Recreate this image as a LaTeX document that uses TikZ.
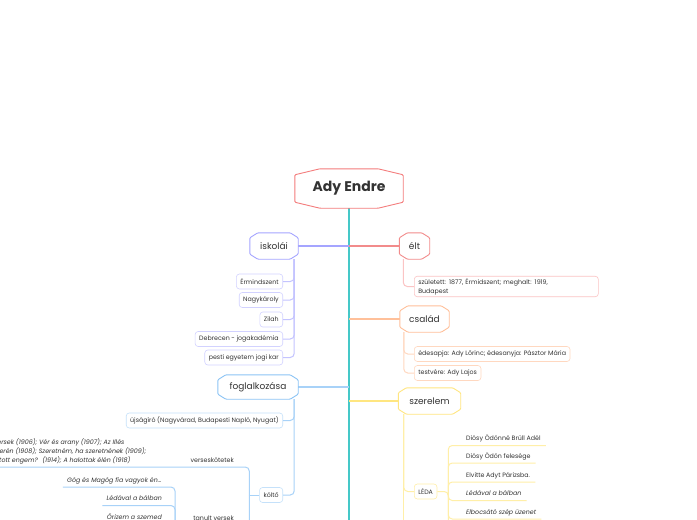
\documentclass[tikz,border=0pt]{standalone}
\usepackage{fontspec}
\setmainfont{Poppins}
\usetikzlibrary{calc}
\definecolor{txt}{HTML}{333333}
\definecolor{trunkc}{HTML}{45C8C8}
\definecolor{rootc}{HTML}{F47C7C}
\definecolor{eltc}{HTML}{F28B8B}
\definecolor{eltleaf}{HTML}{FBC4C4}
\definecolor{csc}{HTML}{FFC09A}
\definecolor{csleaf}{HTML}{FFD8C0}
\definecolor{szc}{HTML}{FFE680}
\definecolor{szline}{HTML}{FFEFA8}
\definecolor{iskc}{HTML}{A5A5FF}
\definecolor{iskline}{HTML}{C4C4FF}
\definecolor{iskleaf}{HTML}{D2D2FF}
\definecolor{fogc}{HTML}{8CC4F5}
\definecolor{fogline}{HTML}{A8D2F8}
\definecolor{fogleaf}{HTML}{C5E1FA}
\newcommand\chamfbox[4]{%
\draw[#2, line width=0.9pt, rounded corners=1pt]
 ($(#1.north west)+(#3,0pt)$) -- ($(#1.north east)+(-#3,0pt)$) -- ($(#1.north east)+(0pt,-#4)$) -- ($(#1.south east)+(0pt,#4)$) -- ($(#1.south east)+(-#3,0pt)$) -- ($(#1.south west)+(#3,0pt)$) -- ($(#1.south west)+(0pt,#4)$) -- ($(#1.north west)+(0pt,-#4)$) -- cycle;}
\begin{document}
\begin{tikzpicture}[x=1pt,y=-1pt,
  topic/.style={inner sep=0pt, minimum height=26pt, font=\fontsize{9}{11}\selectfont, text=txt},
  leaf/.style={draw, rounded corners=3pt, line width=0.6pt, inner xsep=4pt, inner ysep=0pt, minimum height=15pt, font=\fontsize{6.3}{9}\selectfont, text=txt},
  item/.style={inner xsep=0pt, inner ysep=3pt, text height=4.8pt, text depth=1.6pt, font=\fontsize{6.3}{9}\selectfont, text=txt},
  branch/.style={line width=1.4pt},
  sub/.style={line width=1pt, rounded corners=4pt}]
\useasboundingbox (0,0) rectangle (697,520);
\clip (0,0) rectangle (697,520);
\fill[white] (0,0) rectangle (697,520);

% main topics
\node[topic, minimum width=108pt, minimum height=39pt, font=\fontsize{14}{16}\selectfont\bfseries] (root) at (349,188.5) {Ady Endre};
\node[topic, minimum width=48pt] (isk) at (274,246) {iskolái};
\node[topic, minimum width=30pt] (elt) at (414.5,246) {élt};
\node[topic, minimum width=49pt] (csal) at (424.5,319) {család};
\node[topic, minimum width=62pt] (szer) at (429.5,401) {szerelem};
\node[topic, minimum width=80pt, minimum height=24pt] (fog) at (258,387) {foglalkozása};
\coordinate (trunkend) at (349,540);

% trunk and branches
\draw[trunkc, line width=2pt] (root.south) -- (trunkend);
\draw[iskc, branch] (isk.east) -- (isk.east -| root.south);
\draw[eltc, branch] (elt.west) -- (elt.west -| root.south);
\draw[csc, branch] (csal.west) -- (csal.west -| root.south);
\draw[szc, branch] (szer.west) -- (szer.west -| root.south);
\draw[fogline, branch] (fog.east) -- (fog.east -| root.south);

\chamfbox{root}{rootc}{25pt}{6pt}
\chamfbox{isk}{iskc}{8pt}{5pt}
\chamfbox{elt}{eltc}{8pt}{5pt}
\chamfbox{csal}{csc}{8pt}{5pt}
\chamfbox{szer}{szc}{8pt}{5pt}
\chamfbox{fog}{fogc}{8pt}{5pt}

% iskolai
\coordinate (iskv) at ($(isk.south east)+(-4pt,0pt)$);
\node[leaf, draw=iskleaf, anchor=east] (i1) at (283,281.5) {Érmindszent};
\node[leaf, draw=iskleaf, anchor=east] (i2) at (283,300) {Nagykároly};
\node[leaf, draw=iskleaf, anchor=east] (i3) at (283,319.5) {Zilah};
\node[leaf, draw=iskleaf, anchor=east] (i4) at (283,339) {Debrecen - jogakadémia};
\node[leaf, draw=iskleaf, anchor=east] (i5) at (283,357.5) {pesti egyetem jogi kar};
\foreach \n in {i1,i2,i3,i4,i5} \draw[iskline, sub] (iskv) |- (\n.east);

% elt
\coordinate (eltv) at ($(elt.south west)+(4pt,0pt)$);
\node[leaf, draw=eltleaf, anchor=west, align=left, text width=176pt, inner ysep=2pt] (e1) at (414,286.5) {született: 1877, Érmidszent; meghalt: 1919,\\Budapest};
\draw[eltleaf, sub] (eltv) |- (e1.west);

% csalad
\coordinate (csv) at ($(csal.south west)+(4pt,0pt)$);
\node[leaf, draw=csleaf, anchor=west] (c1) at (414,354) {édesapja: Ady Lőrinc; édesanyja: Pásztor Mária};
\node[leaf, draw=csleaf, anchor=west] (c2) at (414,373) {testvére: Ady Lajos};
\draw[csleaf, sub] (csv) |- (c1.west);
\draw[csleaf, sub] (csv) |- (c2.west);

% szerelem
\coordinate (szv) at ($(szer.south west)+(5.5pt,0pt)$);
\node[leaf, draw=szline, anchor=west] (leda) at (414,491.5) {LÉDA};
\draw[szline, sub] (szv) -- (szv |- trunkend);
\draw[szline, sub] (szv) |- (leda.west);
\coordinate (ledj) at ($(leda.east)+(11pt,0pt)$);
\draw[szline, sub] (leda.east) -- (ledj) -- (ledj |- trunkend);
\node[item, anchor=south west] (l1) at (466,445.5) {Diósy Ödönné Brüll Adél};
\node[item, anchor=south west] (l2) at (466,463) {Diósy Ödön felesége};
\node[item, anchor=south west] (l3) at (466,482) {Elvitte Adyt Párizsba.};
\node[item, anchor=south west, font=\fontsize{6.3}{9}\selectfont\itshape] (l4) at (466,500.5) {Lédával a bálban};
\node[item, anchor=south west, font=\fontsize{6.3}{9}\selectfont\itshape] (l5) at (466,519) {Elbocsátó szép üzenet};
\foreach \n in {l1,l2,l3,l4,l5} \draw[szline, sub] (ledj) |- ($(\n.south east)+(5pt,0pt)$);

% foglalkozasa
\coordinate (fogv) at ($(fog.south east)+(-4pt,0pt)$);
\node[leaf, draw=fogleaf, anchor=east] (f1) at (283,420.5) {újságíró (Nagyvárad, Budapesti Napló, Nyugat)};
\node[leaf, draw=fogleaf, anchor=east] (kolto) at (283,495) {költő};
\draw[fogline, sub] (fogv) |- (f1.east);
\draw[fogline, sub] (fogv) |- (kolto.east);

% kolto
\coordinate (kj) at ($(kolto.west)+(-10pt,0pt)$);
\draw[fogline, sub] (kolto.west) -- (kj);
\node[item, anchor=south east] (vk) at (234,467) {verseskötetek};
\node[item, anchor=south west, align=left, font=\fontsize{6.3}{9}\selectfont\itshape] (vkb) at (-14,467) {Új versek (1906); Vér és arany (1907); Az Illés\\szekerén (1908); Szeretném, ha szeretnének (1909);\\Ki látott engem?~ (1914); A halottak élén (1918)};
\draw[fogline, sub] (kj) |- (vkb.south west);
\node[item, anchor=south east] (tv) at (234,525) {tanult versek};
\coordinate (tvj) at (175,525);
\draw[fogline, sub] (kj) |- (tvj);
\node[item, anchor=south east, font=\fontsize{6.3}{9}\selectfont\itshape] (t1) at (162,487) {Góg és Magóg fia vagyok én...};
\node[item, anchor=south east, font=\fontsize{6.3}{9}\selectfont\itshape] (t2) at (162,505.5) {Lédával a bálban};
\node[item, anchor=south east, font=\fontsize{6.3}{9}\selectfont\itshape] (t3) at (162,524) {Őrizem a szemed};
\foreach \n in {t1,t2,t3} \draw[fogline, sub] (tvj) |- ($(\n.south west)+(-4pt,0pt)$);
\end{tikzpicture}
\end{document}
